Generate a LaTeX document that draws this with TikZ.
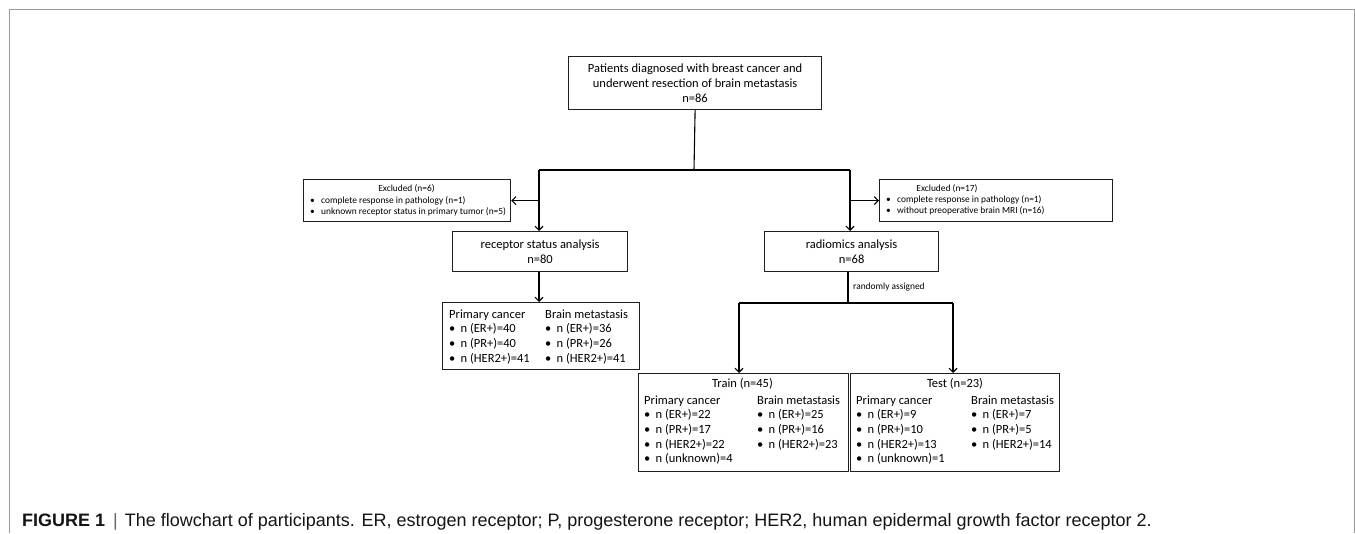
\documentclass[tikz,border=0pt]{standalone}
\usepackage{fontspec}
\setmainfont{Carlito}
\newfontfamily\capfont{Liberation Sans}
\usetikzlibrary{arrows.meta}
\newcommand\bul{\makebox[11.5pt][l]{•}}
\newcommand\sbul{\makebox[11pt][l]{•}}
\newcommand\tcol[4]{\foreach \t [count=\i from 0] in {#4} {\node[tline] (#1\i) at (#2,{#3+\i*14.67}) {\t};}}
\begin{document}
\begin{tikzpicture}[x=1pt,y=-1pt,
  box/.style={draw=black!88,line width=1.2pt,anchor=north west,inner sep=0pt},
  conn/.style={line width=1.1pt,black},
  arr/.style={conn,-{Straight Barb[length=4pt,width=8pt,line width=1.1pt]}},
  tline/.style={anchor=base west,inner sep=0pt,font=\fontsize{12.5}{15}\selectfont},
  sline/.style={anchor=base west,inner sep=0pt,font=\fontsize{9.4}{11}\selectfont},
]
\useasboundingbox (0,0) rectangle (1355,533);
% frame
\draw[black!40,line width=1pt] (9,533) -- (9,9) -- (1354,9) -- (1354,533);

% top box
\node[box,minimum width=253pt,minimum height=53pt,align=center,font=\fontsize{12.5}{15}\selectfont] (top) at (568,56)
  {Patients diagnosed with breast cancer and\\underwent resection of brain metastasis\\n=86};

% analysis boxes
\node[box,minimum width=175pt,minimum height=40pt,align=center,font=\fontsize{12.5}{14.5}\selectfont] (rsa) at (452,231)
  {receptor status analysis\\n=80};
\node[box,minimum width=174pt,minimum height=40pt,align=center,font=\fontsize{12.5}{14.5}\selectfont] (rad) at (764,231)
  {radiomics analysis\\n=68};

% excluded boxes
\node[box,minimum width=207pt,minimum height=42pt] (exL) at (303,179) {};
\node[sline,anchor=base] (exLt) at (406.5,191.5) {Excluded (n=6)};
\node[sline] (exL1) at (310,203) {\sbul complete response in pathology (n=1)};
\node[sline] (exL2) at (310,214) {\sbul unknown receptor status in primary tumor (n=5)};

\node[box,minimum width=233pt,minimum height=42pt] (exR) at (879,179) {};
\node[sline,anchor=base] (exRt) at (947,191) {Excluded (n=17)};
\node[sline] (exR1) at (886,202.5) {\sbul complete response in pathology (n=1)};
\node[sline] (exR2) at (886,213.5) {\sbul without preoperative brain MRI (n=16)};

% receptor table
\node[box,minimum width=197pt,minimum height=67pt] (rtab) at (442,302) {};
\tcol{rp}{449}{318}{Primary cancer,\bul n (ER+)=40,\bul n (PR+)=40,\bul n (HER2+)=41}
\tcol{rb}{545}{318}{Brain metastasis,\bul n (ER+)=36,\bul n (PR+)=26,\bul n (HER2+)=41}

% train box
\node[box,minimum width=210pt,minimum height=98pt] (train) at (638,373) {};
\node[tline,anchor=base] (trt) at (742.5,387.5) {Train (n=45)};
\tcol{tp}{644}{404}{Primary cancer,\bul n (ER+)=22,\bul n (PR+)=17,\bul n (HER2+)=22,\bul n (unknown)=4}
\tcol{tb}{757}{404}{Brain metastasis,\bul n (ER+)=25,\bul n (PR+)=16,\bul n (HER2+)=23}

% test box
\node[box,minimum width=209pt,minimum height=98pt] (test) at (850,373) {};
\node[tline,anchor=base] (tet) at (955,387.5) {Test (n=23)};
\tcol{sp}{856}{404}{Primary cancer,\bul n (ER+)=9,\bul n (PR+)=10,\bul n (HER2+)=13,\bul n (unknown)=1}
\tcol{sb}{971}{404}{Brain metastasis,\bul n (ER+)=7,\bul n (PR+)=5,\bul n (HER2+)=14}

% connectors
\coordinate (j1) at (694,170);
\draw[conn] (top.south) -- (j1);
\draw[conn] (j1) -- (539,170) coordinate (jl);
\draw[conn] (j1) -- (850,170) coordinate (jr);
\draw[arr] (jl) -- (jl |- rsa.north);
\draw[arr] (jr) -- (jr |- rad.north);
\draw[arr] (jl |- exL.east) -- (exL.east);
\draw[arr] (jr |- exR.west) -- (exR.west);
\draw[arr] (rsa.south -| jl) -- (rtab.north -| jl);

\coordinate (j2) at (848,303);
\draw[conn] (rad.south -| j2) -- (j2);
\draw[conn] (739,303) coordinate (j2l) -- (953,303) coordinate (j2r);
\draw[arr] (j2l) -- (j2l |- train.north);
\draw[arr] (j2r) -- (j2r |- test.north);
\node[sline] (rand) at (853,289) {randomly assigned};

% caption
\node[anchor=base west,inner sep=0pt,text=black!92,font=\capfont\fontsize{18}{20}\selectfont] (cap) at (22,526)
  {\textbf{FIGURE 1}\hspace{8pt}{\color{black!60}|}\hspace{7pt}The flowchart of participants. ER, estrogen receptor; P, progesterone receptor; HER2, human epidermal growth factor receptor 2.};
\end{tikzpicture}
\end{document}
